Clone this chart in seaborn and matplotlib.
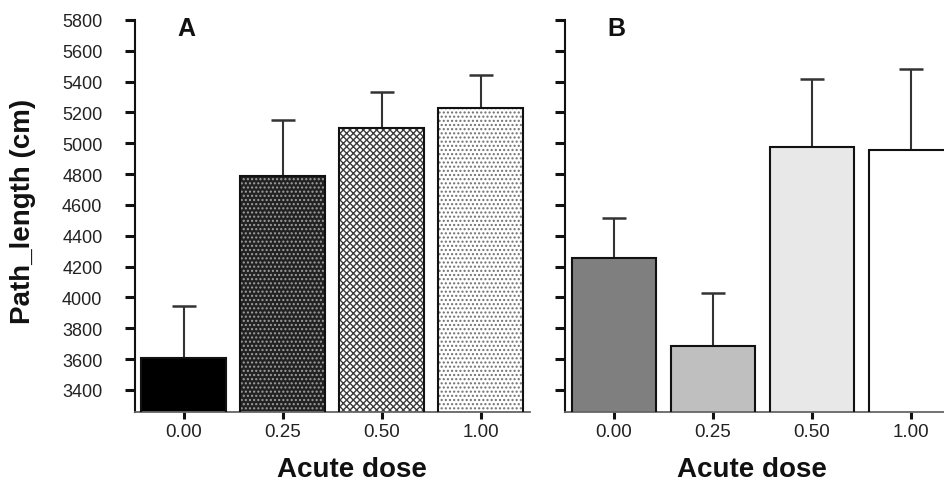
import matplotlib
matplotlib.use("Agg")
import matplotlib.pyplot as plt
from matplotlib.patches import Rectangle
import numpy as np
import pandas as pd
import seaborn as sns

# ---- data ----
doses = ["0.00", "0.25", "0.50", "1.00"]
mean_a = [3605, 4790, 5100, 5230]
err_a = [340, 360, 230, 215]
mean_b = [4255, 3685, 4975, 4955]
err_b = [260, 345, 445, 525]
yticks = [3400, 3600, 3800, 4000, 4200, 4400, 4600, 4800, 5000, 5200, 5400, 5600, 5800]

sns.set_theme(style="white")
plt.rcParams["font.family"] = ["Liberation Sans", "DejaVu Sans"]
plt.rcParams["hatch.linewidth"] = 1.0

fig = plt.figure(figsize=(9.45, 4.81), dpi=100)
axA = fig.add_axes([0.1429, 0.1414, 0.418, 0.815])
axB = fig.add_axes([0.598, 0.1414, 0.418, 0.815])

# fill / hatch styles per bar: (facecolor, hatch, hatchcolor)
styles_a = [("#000000", None, None),
            ("#222222", "....", "#a0a0a0"),
            ("#ffffff", "xxxxx", "#3c3c3c"),
            ("#ffffff", "....", "#707070")]
styles_b = [("#7f7f7f", None, None),
            ("#bfbfbf", None, None),
            ("#e8e8e8", None, None),
            ("#ffffff", None, None)]


def panel(ax, means, errs, styles, letter, label_x, show_ylabels):
    df = pd.DataFrame({"dose": doses, "path": means})
    pal = {d: s[0] for d, s in zip(doses, styles)}
    sns.barplot(data=df, x="dose", y="path", hue="dose", order=doses,
                hue_order=doses, palette=pal, legend=False, errorbar=None,
                width=0.85, saturation=1, ax=ax, zorder=2)
    bars = sorted(ax.patches, key=lambda p: p.get_x())
    xs = []
    for p, (fc, hatch, hc) in zip(bars, styles):
        p.set_facecolor(fc)
        if hatch:
            p.set_hatch(hatch)
            p.set_edgecolor(hc)
        p.set_linewidth(0)
        outline = Rectangle(p.get_xy(), p.get_width(), p.get_height(),
                            fill=False, edgecolor="#111111", linewidth=1.5,
                            zorder=3)
        ax.add_patch(outline)
        xs.append(p.get_x() + p.get_width() / 2)
    ax.errorbar(xs, means, yerr=[np.zeros(len(errs)), errs], fmt="none",
                ecolor="#333333", elinewidth=1.5, capsize=8.6, capthick=1.8,
                zorder=1)
    ax.set_ylim(3257, 5800)
    ax.set_xlim(-0.49, 3.5)
    ax.set_yticks(yticks)
    for s in ["top", "right"]:
        ax.spines[s].set_visible(False)
    ax.spines["left"].set_linewidth(1.5)
    ax.spines["left"].set_color("#111111")
    ax.spines["bottom"].set_linewidth(1.3)
    ax.spines["bottom"].set_color("#666666")
    ax.tick_params(axis="y", direction="out", length=7, width=2.2,
                   color="#111111", labelsize=13, pad=16.5, left=True,
                   labelleft=show_ylabels, labelcolor="#222222")
    ax.tick_params(axis="x", direction="out", length=5, width=2.2,
                   color="#111111", labelsize=13.5, pad=3, bottom=True,
                   labelcolor="#222222")
    ax.set_xlabel("Acute dose", fontsize=20, fontweight="bold", va="center",
                  color="#111111")
    ax.xaxis.set_label_coords(label_x, -0.145)
    if show_ylabels:
        ax.set_ylabel("Path_length (cm)", fontsize=20, fontweight="bold",
                      va="center", ha="center", color="#111111")
        ax.yaxis.set_label_coords(-0.284, 0.513)
    else:
        ax.set_ylabel("")
    ax.text(0.13, 0.98, letter, transform=ax.transAxes, fontsize=18,
            fontweight="bold", ha="center", va="center", color="#111111")


panel(axA, mean_a, err_a, styles_a, "A", 0.549, True)
panel(axB, mean_b, err_b, styles_b, "B", 0.473, False)

fig.savefig("out.png", dpi=100)
